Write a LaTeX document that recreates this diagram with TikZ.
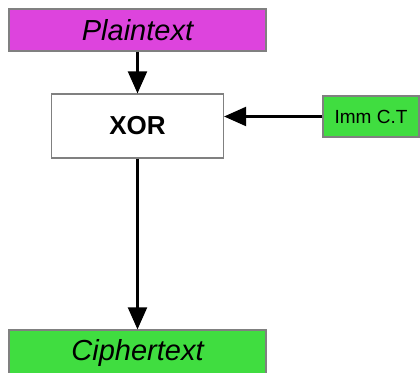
\documentclass[tikz,border=0pt]{standalone}
\usepackage{fontspec}
\setmainfont{Liberation Sans}
\usetikzlibrary{arrows.meta}
\definecolor{plainpink}{RGB}{221,68,221}
\definecolor{boxgreen}{RGB}{64,221,64}
\begin{document}
\begin{tikzpicture}[x=0.5pt, y=-0.5pt,
  box/.style={draw=black!50, line width=0.6pt, inner sep=0pt},
  flow/.style={line width=1.1pt, -{Triangle[length=11pt, width=9.5pt]}}]
%
\useasboundingbox (0,0) rectangle (420,373);
\clip (0,0) rectangle (420,373);
%
\node[box, fill=plainpink, minimum width=128.5pt, minimum height=21pt,
  font=\fontsize{14.5}{16}\selectfont\itshape] (plain) at (137.5,30) {Plaintext};
\node[box, fill=white, minimum width=86pt, minimum height=32pt,
  font=\fontsize{13}{15}\selectfont\bfseries] (xor) at (137.5,126) {XOR};
\node[box, fill=boxgreen, minimum width=48pt, minimum height=20.5pt,
  font=\fontsize{9.5}{11}\selectfont] (imm) at (371,116.5) {Imm C.T};
\node[box, fill=boxgreen, minimum width=128.5pt, minimum height=23pt,
  font=\fontsize{14.5}{16}\selectfont\itshape] (cipher) at (137.5,353) {Ciphertext};
%
\draw[flow] (plain.south) -- (xor.north);
\draw[flow] (imm.west) -- (imm.west -| xor.east);
\draw[flow] (xor.south) -- (cipher.north);
%
\end{tikzpicture}
\end{document}
